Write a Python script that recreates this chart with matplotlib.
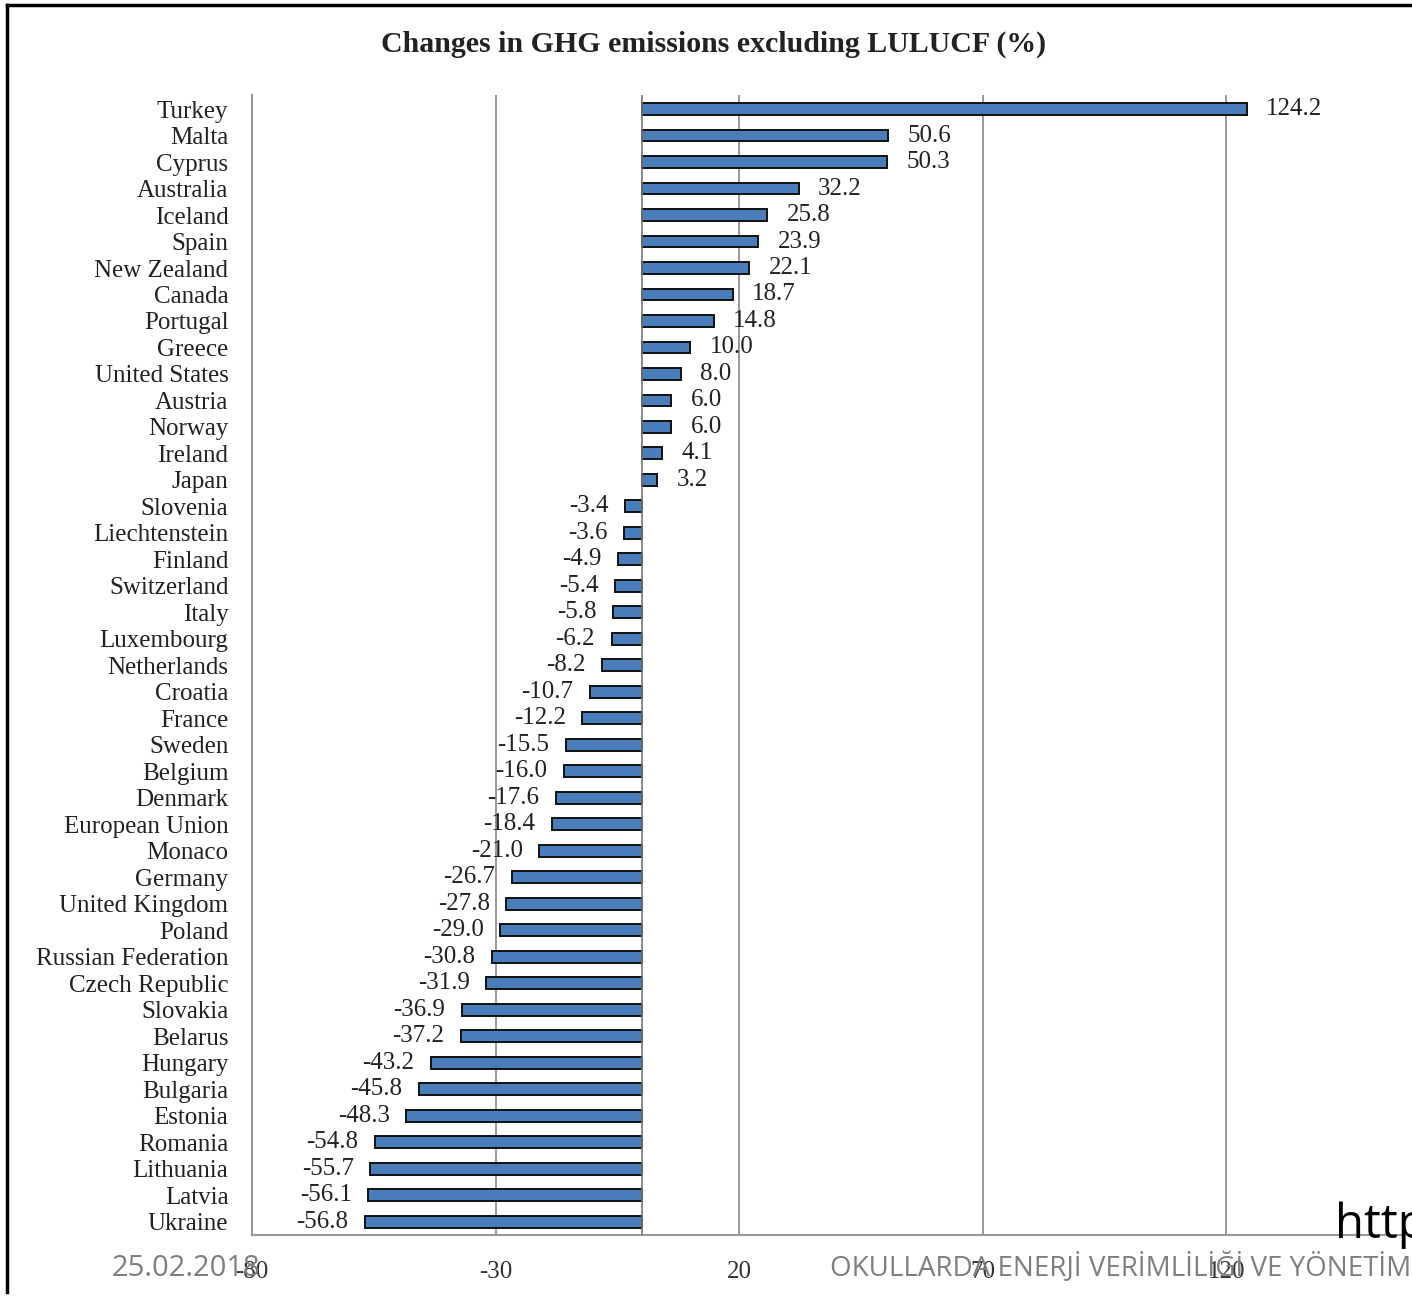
import matplotlib.pyplot as plt
import matplotlib.lines as mlines

countries = ["Turkey", "Malta", "Cyprus", "Australia", "Iceland", "Spain", "New Zealand",
             "Canada", "Portugal", "Greece", "United States", "Austria", "Norway", "Ireland",
             "Japan", "Slovenia", "Liechtenstein", "Finland", "Switzerland", "Italy",
             "Luxembourg", "Netherlands", "Croatia", "France", "Sweden", "Belgium", "Denmark",
             "European Union", "Monaco", "Germany", "United Kingdom", "Poland",
             "Russian Federation", "Czech Republic", "Slovakia", "Belarus", "Hungary",
             "Bulgaria", "Estonia", "Romania", "Lithuania", "Latvia", "Ukraine"]
values = [124.2, 50.6, 50.3, 32.2, 25.8, 23.9, 22.1, 18.7, 14.8, 10.0, 8.0, 6.0, 6.0, 4.1, 3.2,
          -3.4, -3.6, -4.9, -5.4, -5.8, -6.2, -8.2, -10.7, -12.2, -15.5, -16.0, -17.6, -18.4,
          -21.0, -26.7, -27.8, -29.0, -30.8, -31.9, -36.9, -37.2, -43.2, -45.8, -48.3, -54.8,
          -55.7, -56.1, -56.8]
xticks = [-80, -30, 20, 70, 120]

serif = "Liberation Serif"

fig = plt.figure(figsize=(14.12, 12.98), dpi=100)
ax = fig.add_axes([252 / 1412, 1 - 1235 / 1298, 1 - 252 / 1412, (1235 - 95) / 1298])

y = list(range(len(countries)))
ax.barh(y, values, height=0.45, color="#4a7ebb", edgecolor="#111111", linewidth=1.4, zorder=3)
ax.axvline(0, color="#777777", linewidth=1.2, zorder=4)

for yi, v in zip(y, values):
    if v >= 0:
        ax.annotate(f"{v:.1f}", (v, yi), xytext=(14, 0), textcoords="offset points",
                    ha="left", va="center", fontsize=18, family=serif, color="#222222")
    else:
        ax.annotate(f"{v:.1f}", (v, yi), xytext=(-12, 0), textcoords="offset points",
                    ha="right", va="center", fontsize=18, family=serif, color="#222222")

ax.set_xlim(-80, 158.1)
ax.set_ylim(len(countries) - 0.5, -0.53)
ax.set_xticks(xticks)
ax.set_xticklabels([str(t) for t in xticks], family=serif, fontsize=18, color="#333333")
ax.set_yticks(y)
ax.set_yticklabels(countries, family=serif, fontsize=18, color="#222222")
ax.tick_params(length=0, pad=17, axis="y")
ax.tick_params(length=0, pad=19, axis="x")
ax.grid(axis="x", color="#888888", linewidth=1.2, zorder=0)
for s in ["top", "right"]:
    ax.spines[s].set_visible(False)
ax.spines["left"].set_color("#999999")
ax.spines["bottom"].set_color("#999999")
ax.spines["left"].set_linewidth(1.5)
ax.spines["bottom"].set_linewidth(1.5)

fig.text(714 / 1412, 1 - 44 / 1298, "Changes in GHG emissions excluding LULUCF (%)",
         ha="center", va="center", fontsize=21.5, fontweight="bold", family=serif, color="#222222")

# slide overlays
fig.text(112 / 1412, 1 - 1268 / 1298, "25.02.2018", ha="left", va="center",
         fontsize=21, family="Open Sans", color="#7f7f7f")
fig.text(830 / 1412, 1 - 1268 / 1298, "OKULLARDA ENERJİ VERİMLİLİĞİ VE YÖNETİMİ", ha="left",
         va="center", fontsize=20, family="Open Sans", color="#7f7f7f")
fig.text(1335 / 1412, 1 - 1225 / 1298, "http", ha="left", va="center",
         fontsize=34, family="Open Sans", color="black")

# frame of the screenshot
fig.add_artist(mlines.Line2D([7 / 1412, 1], [1 - 5 / 1298, 1 - 5 / 1298], color="black", linewidth=2.5))
fig.add_artist(mlines.Line2D([7 / 1412, 7 / 1412], [1 - 5 / 1298, 1 - 1292 / 1298], color="black", linewidth=2.5))

fig.savefig("out.png", dpi=100)
